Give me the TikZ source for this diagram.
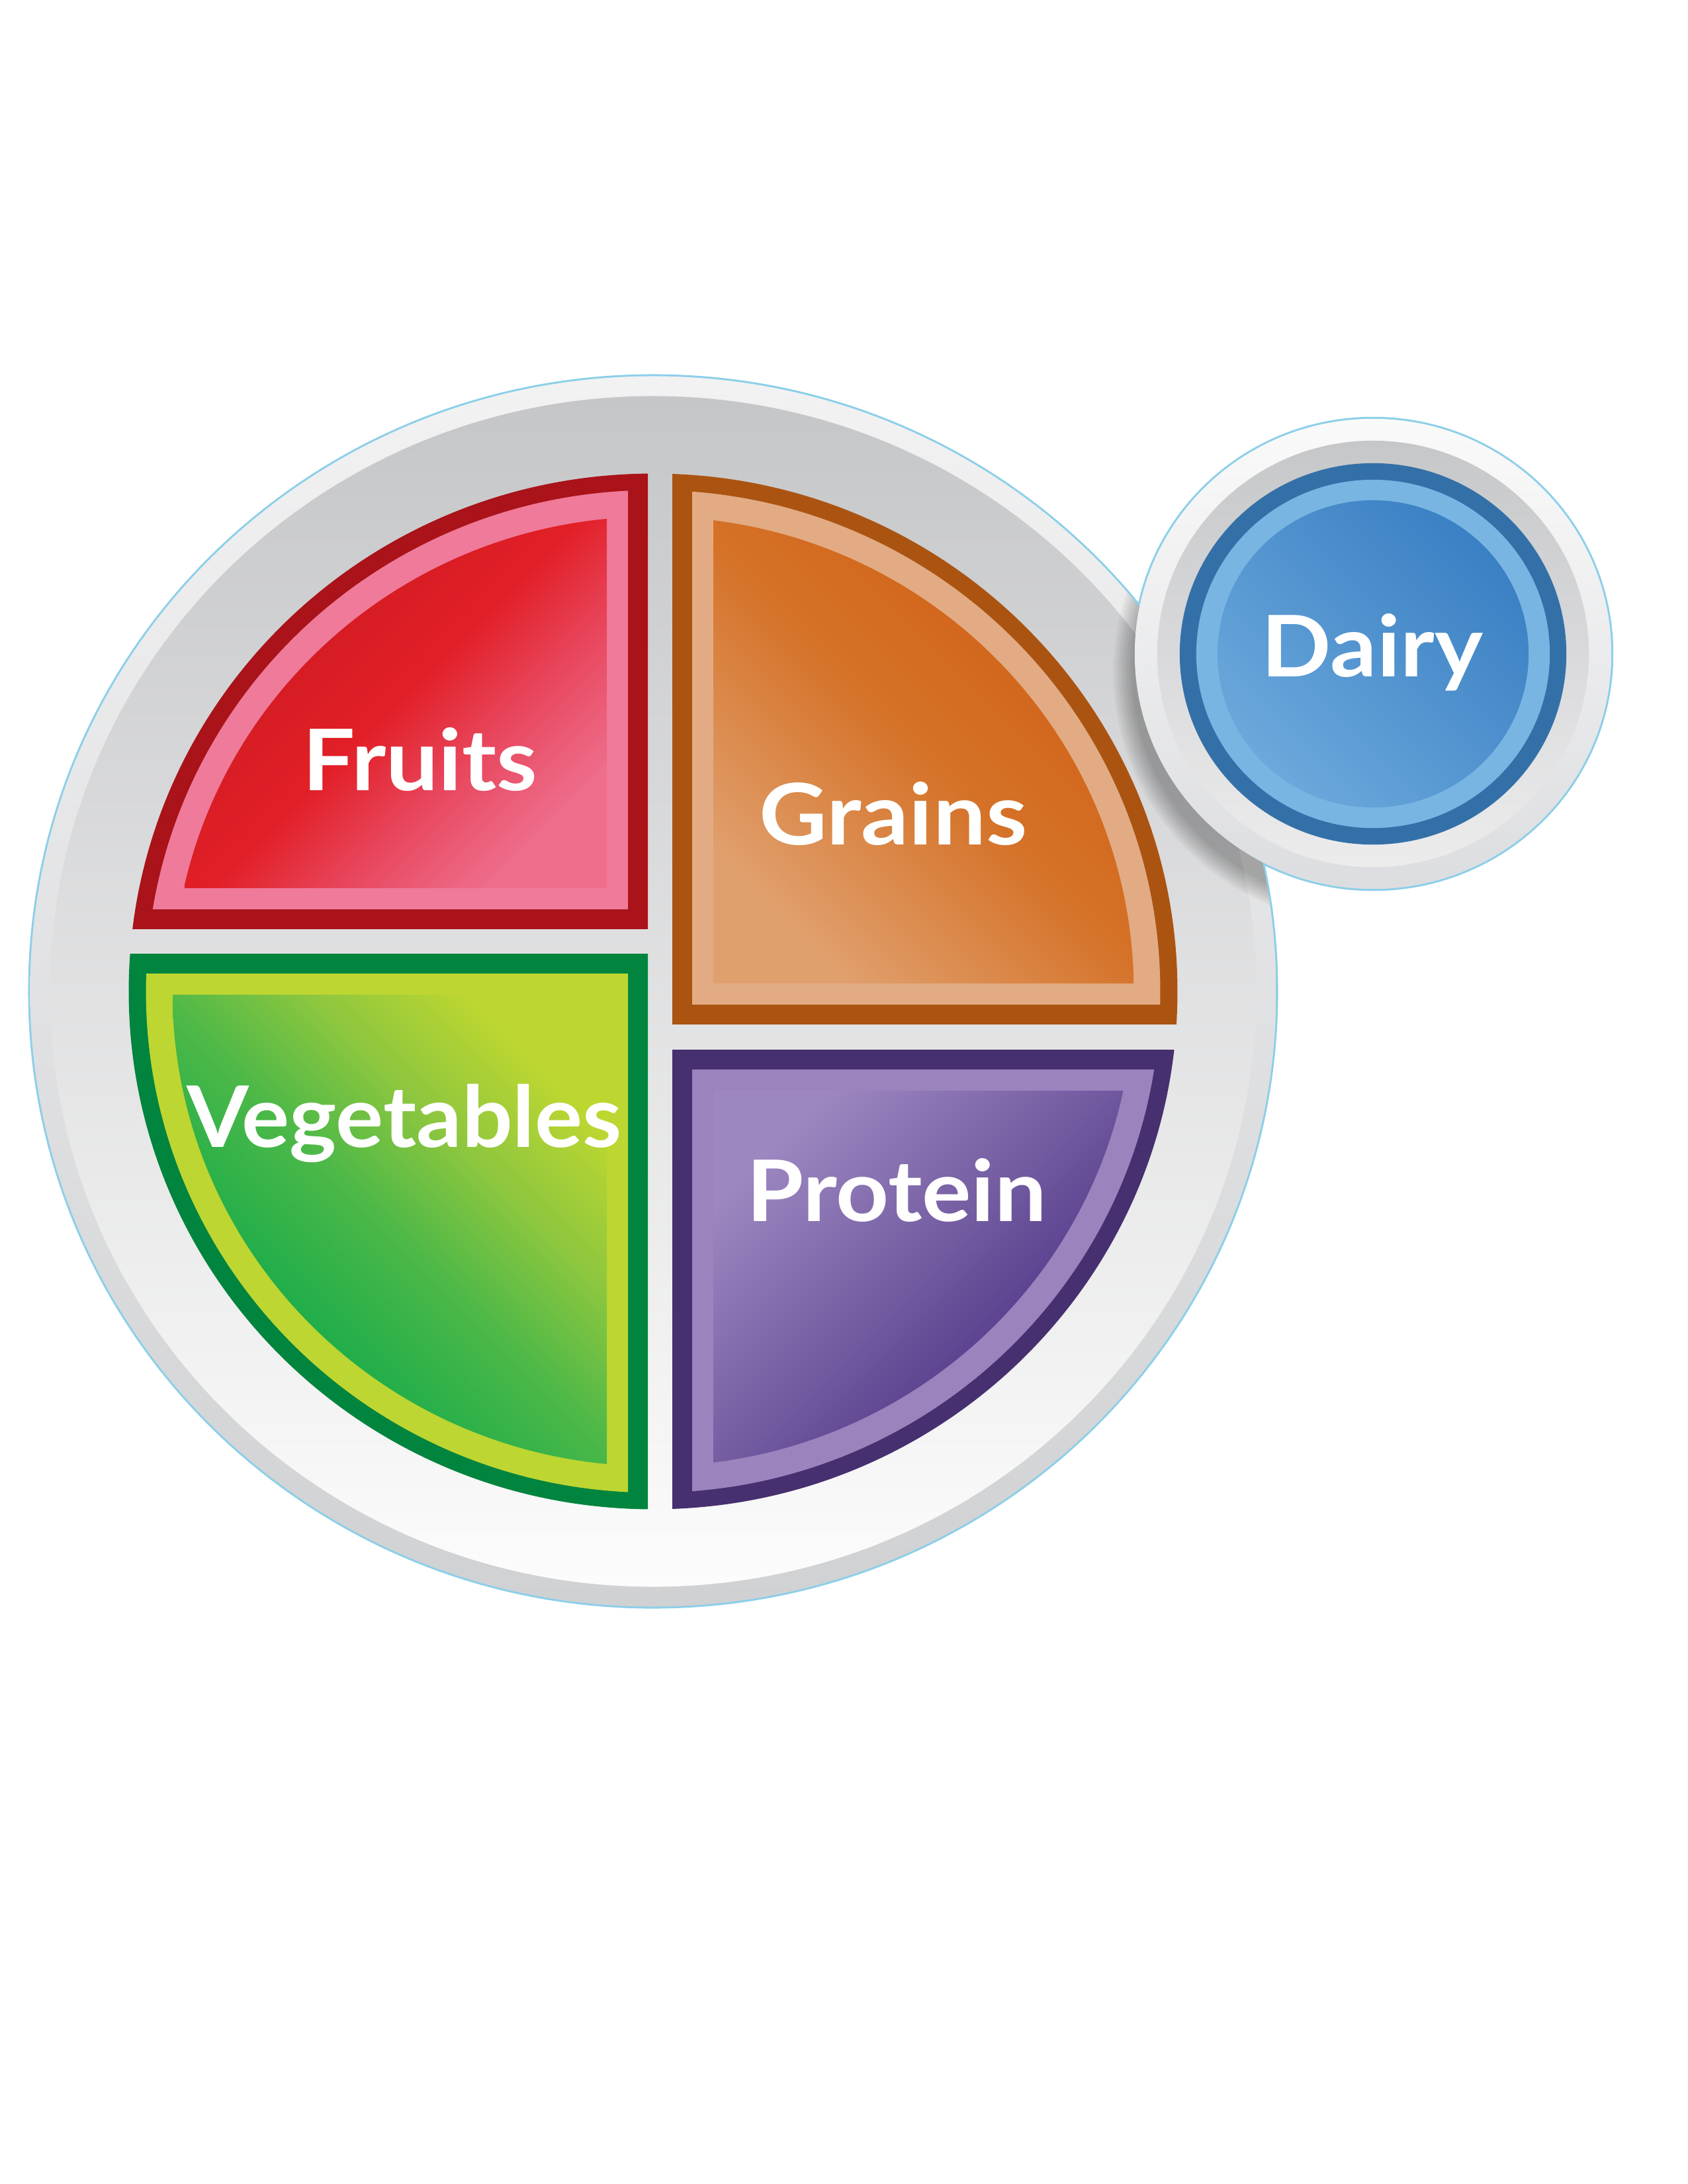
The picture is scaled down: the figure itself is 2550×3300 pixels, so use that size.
\documentclass[tikz,border=0pt]{standalone}
\usepackage{fontspec}
\usepackage{graphicx}
\newfontfamily\lblfont{Lato}
\usetikzlibrary{calc}
\definecolor{edgeblue}{HTML}{8CCFE8}
\definecolor{rimtop}{HTML}{F2F2F3}
\definecolor{rimbot}{HTML}{D0D1D3}
\definecolor{plttop}{HTML}{C5C6C8}
\definecolor{pltbot}{HTML}{FCFCFC}
% Fruits
\definecolor{frdark}{HTML}{A91319}
\definecolor{frband}{HTML}{EF7A99}
\definecolor{fr75}{HTML}{C8191F}
\definecolor{fr50}{HTML}{E21F27}
\definecolor{fr37}{HTML}{E8475E}
\definecolor{fr25}{HTML}{EE6E8C}
% Grains
\definecolor{grdark}{HTML}{AB5412}
\definecolor{grband}{HTML}{E2AB84}
\definecolor{gr75}{HTML}{D2681D}
\definecolor{gr50}{HTML}{D57228}
\definecolor{gr37}{HTML}{DB8A4C}
\definecolor{gr25}{HTML}{E0A06E}
% Vegetables
\definecolor{vgdark}{HTML}{00843E}
\definecolor{vgband}{HTML}{BDD631}
\definecolor{vg75}{HTML}{BED730}
\definecolor{vg62}{HTML}{8CC63F}
\definecolor{vg50}{HTML}{4CB848}
\definecolor{vg37}{HTML}{22AE4A}
\definecolor{vg25}{HTML}{0AA84C}
% Protein
\definecolor{prdark}{HTML}{46306F}
\definecolor{prband}{HTML}{9B84BD}
\definecolor{pr75}{HTML}{9C87C0}
\definecolor{pr62}{HTML}{8670B0}
\definecolor{pr50}{HTML}{715A9F}
\definecolor{pr37}{HTML}{5B4290}
\definecolor{pr25}{HTML}{553B88}
% Dairy
\definecolor{dyouterT}{HTML}{FAFAFA}
\definecolor{dyouterB}{HTML}{DCDDE0}
\definecolor{dygrayT}{HTML}{C6C7C9}
\definecolor{dygrayB}{HTML}{ECECED}
\definecolor{dydark}{HTML}{3470A8}
\definecolor{dylight}{HTML}{78B5E2}
\definecolor{dyA}{HTML}{3A80C4}
\definecolor{dyC}{HTML}{6BA8DB}
\pgfdeclareverticalshading{frshade}{100bp}{color(0bp)=(fr25); color(25bp)=(fr25); color(38bp)=(fr37); color(50bp)=(fr50); color(75bp)=(fr75); color(100bp)=(fr75)}
\pgfdeclareverticalshading{grshade}{100bp}{color(0bp)=(gr25); color(25bp)=(gr25); color(37bp)=(gr37); color(50bp)=(gr50); color(62bp)=(gr75); color(100bp)=(gr75)}
\pgfdeclareverticalshading{vgshade}{100bp}{color(0bp)=(vg25); color(25bp)=(vg25); color(37bp)=(vg37); color(50bp)=(vg50); color(62bp)=(vg62); color(75bp)=(vg75); color(100bp)=(vg75)}
\pgfdeclareverticalshading{prshade}{100bp}{color(0bp)=(pr25); color(25bp)=(pr25); color(38bp)=(pr37); color(50bp)=(pr50); color(62bp)=(pr62); color(75bp)=(pr75); color(100bp)=(pr75)}
\newcommand\foodlabel[2]{\resizebox{#1}{\height}{\fontsize{36.5pt}{40pt}\selectfont\lblfont\bfseries #2}}
\begin{document}
\begin{tikzpicture}[x=0.01cm,y=-0.01cm,
  lbl/.style={text=white, inner sep=0pt, anchor=base},
  outline/.style={draw=edgeblue, line width=0.06cm}]
\useasboundingbox (0,0) rectangle (2550,3300);
\fill[white] (0,0) rectangle (2550,3300);
\coordinate (P) at (987,1498);
\coordinate (D) at (2075,988);
% plate and dairy outlines
\draw[outline] (P) ellipse [x radius=9.41cm, y radius=9.29cm];
\draw[outline] (D) ellipse [x radius=3.60cm, y radius=3.55cm];
% plate
\shade[top color=rimtop, bottom color=rimbot] (P) ellipse [x radius=9.41cm, y radius=9.29cm];
\shade[top color=plttop, bottom color=pltbot] (P) ellipse [x radius=9.11cm, y radius=8.99cm];
% shadow of the dairy cup on the plate
\begin{scope}
  \clip (P) ellipse [x radius=9.41cm, y radius=9.29cm];
  \foreach \k in {0,...,7} {
    \fill[black, opacity=0.04] ($(D)+(-6,28)$) ellipse [x radius={3.58cm+\k*0.04cm}, y radius={3.53cm+\k*0.04cm}];
  }
\end{scope}
% Fruits
\begin{scope}
  \clip (0,0) rectangle (979,1403);
  \fill[frdark] (P) ellipse [x radius=7.92cm, y radius=7.82cm];
\end{scope}
\begin{scope}
  \clip (0,0) rectangle (949,1373);
  \fill[frband] (P) ellipse [x radius=7.66cm, y radius=7.57cm];
\end{scope}
\begin{scope}
  \clip (P) ellipse [x radius=7.26cm, y radius=7.17cm];
  \shade[shading=frshade, shading angle=45] (279,781) rectangle (917,1341);
\end{scope}
% Grains
\begin{scope}
  \clip (1016,0) rectangle (2550,1547);
  \fill[grdark] (P) ellipse [x radius=7.92cm, y radius=7.82cm];
\end{scope}
\begin{scope}
  \clip (1046,0) rectangle (2550,1517);
  \fill[grband] (P) ellipse [x radius=7.66cm, y radius=7.57cm];
\end{scope}
\begin{scope}
  \clip (P) ellipse [x radius=7.26cm, y radius=7.17cm];
  \shade[shading=grshade, shading angle=-45] (1078,781) rectangle (1713,1485);
\end{scope}
% Vegetables
\begin{scope}
  \clip (0,1441) rectangle (979,3300);
  \fill[vgdark] (P) ellipse [x radius=7.92cm, y radius=7.82cm];
\end{scope}
\begin{scope}
  \clip (0,1471) rectangle (949,3300);
  \fill[vgband] (P) ellipse [x radius=7.66cm, y radius=7.57cm];
\end{scope}
\begin{scope}
  \clip (P) ellipse [x radius=7.26cm, y radius=7.17cm];
  \shade[shading=vgshade, shading angle=-45] (261,1503) rectangle (917,2215);
\end{scope}
% Protein
\begin{scope}
  \clip (1016,1586) rectangle (2550,3300);
  \fill[prdark] (P) ellipse [x radius=7.92cm, y radius=7.82cm];
\end{scope}
\begin{scope}
  \clip (1046,1616) rectangle (2550,3300);
  \fill[prband] (P) ellipse [x radius=7.66cm, y radius=7.57cm];
\end{scope}
\begin{scope}
  \clip (P) ellipse [x radius=7.26cm, y radius=7.17cm];
  \shade[shading=prshade, shading angle=45] (1078,1648) rectangle (1697,2215);
\end{scope}
% Dairy cup
\shade[top color=dyouterT, bottom color=dyouterB] (D) ellipse [x radius=3.60cm, y radius=3.55cm];
\shade[top color=dygrayT, bottom color=dygrayB] (D) ellipse [x radius=3.26cm, y radius=3.22cm];
\fill[dydark] (D) ellipse [x radius=2.92cm, y radius=2.88cm];
\fill[dylight] (D) ellipse [x radius=2.67cm, y radius=2.63cm];
\shade[top color=dyA, bottom color=dyC, shading angle=-45] (D) ellipse [x radius=2.35cm, y radius=2.32cm];
% labels
\node[lbl] (fruits) at (635,1194) {\foodlabel{101pt}{Fruits}};
\node[lbl] (grains) at (1350,1276) {\foodlabel{115pt}{Grains}};
\node[lbl] (vegetables) at (611,1733) {\foodlabel{187pt}{Vegetables}};
\node[lbl] (protein) at (1355,1845) {\foodlabel{129pt}{Protein}};
\node[lbl] (dairy) at (2074,1022) {\foodlabel{95pt}{Dairy}};
\end{tikzpicture}
\end{document}
